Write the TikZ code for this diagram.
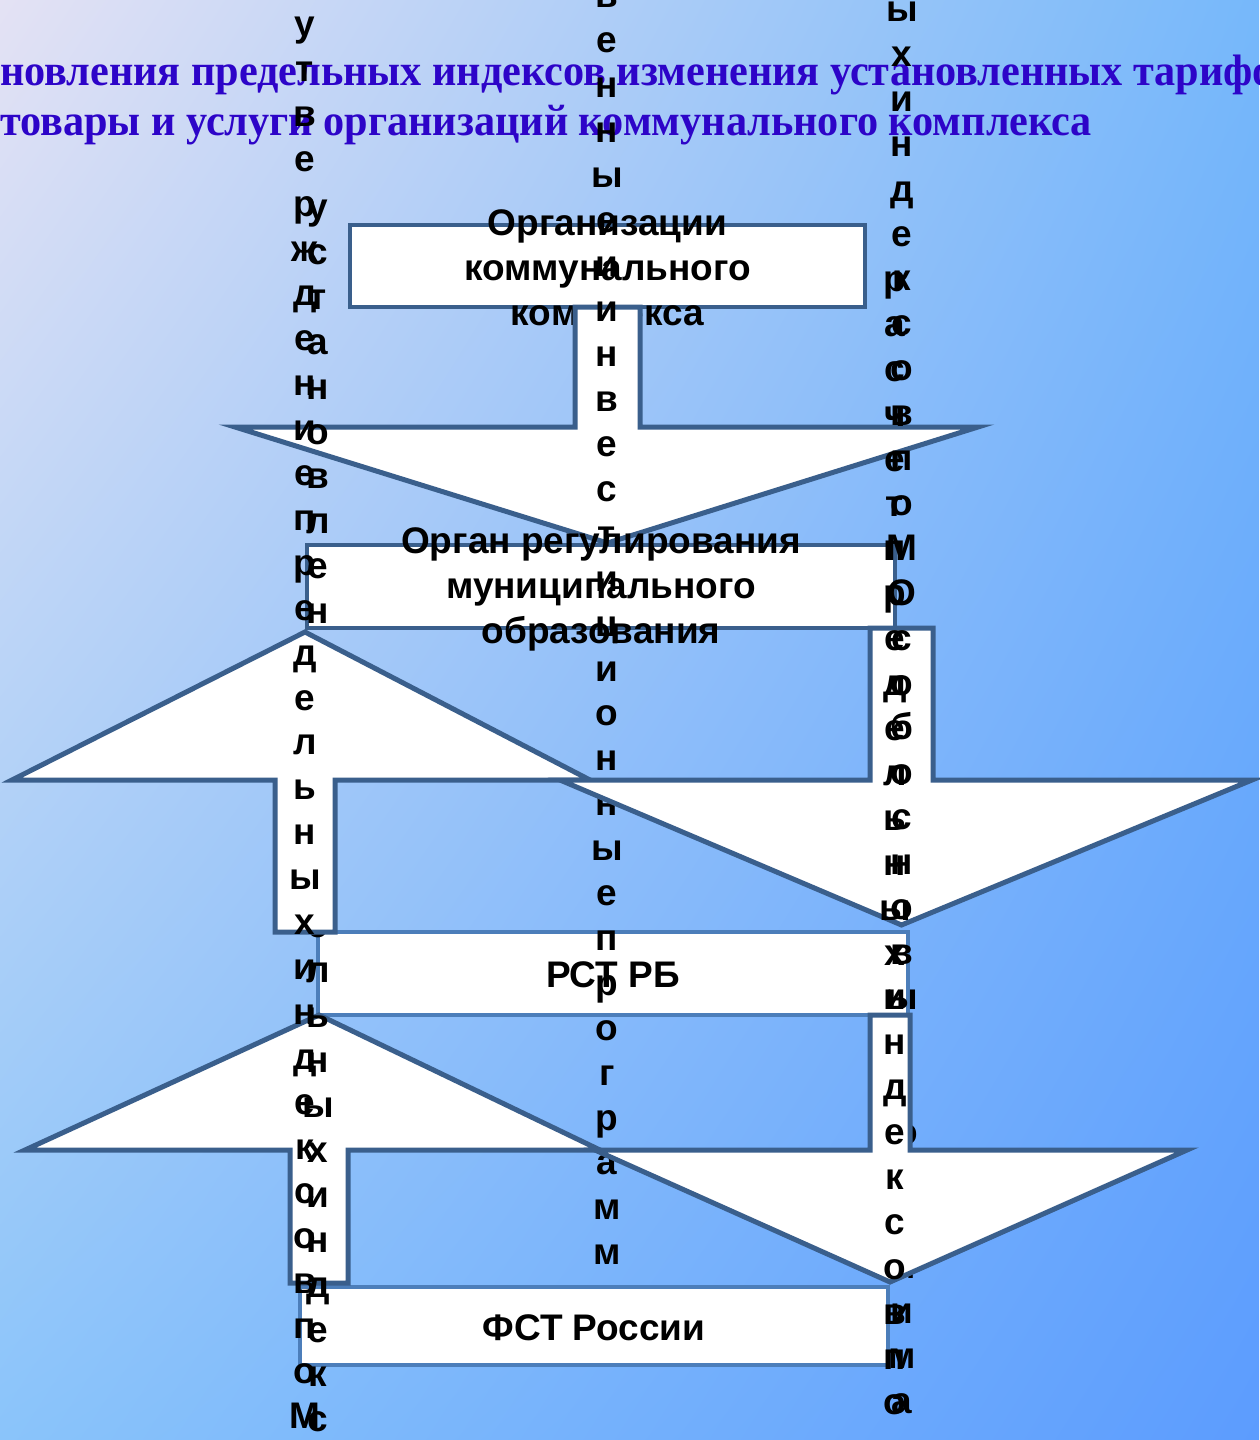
\documentclass[tikz,border=0pt]{standalone}
\usepackage{graphicx}
\usepackage{fontspec}
\setmainfont{Liberation Sans}
\newfontfamily\titlefont{Liberation Serif}
\usetikzlibrary{shadings}

\definecolor{bgtl}{RGB}{228,226,244}
\definecolor{bgtr}{RGB}{118,184,250}
\definecolor{bgbl}{RGB}{138,196,250}
\definecolor{bgbr}{RGB}{92,156,254}
\definecolor{titleblue}{RGB}{45,4,200}
\definecolor{darkline}{RGB}{58,95,140}
\definecolor{lightline}{RGB}{76,126,186}

% block arrow: shaft axis x, shaft end y, wing y, tip y, half shaft, left wing x, right wing x
\newcommand{\blockarrow}[7]{%
  \draw[arrowblock] ({#1-#5},#2) -- ({#1-#5},#3) -- (#6,#3) -- (#1,#4) -- (#7,#3) -- ({#1+#5},#3) -- ({#1+#5},#2) -- cycle;}

% one letter per line: name, x, y of first letter, letters
\newcommand{\lettercolumn}[4]{%
  \foreach \ch [count=\k from 0] in {#4}
    \node[vletter] (#1-\k) at (#2,{#3+9.5+44.9*\k}) {\ch};}

\begin{document}
\begin{tikzpicture}
[x=1pt, y=-1pt,
 boxnode/.style={rectangle, draw=darkline, line width=4.5pt, fill=white, inner sep=0pt},
 lightbox/.style={boxnode, draw=lightline},
 boxtext/.style={align=center, inner sep=0pt, font=\bfseries\fontsize{37}{45}\selectfont},
 arrowblock/.style={draw=darkline, line width=5pt, fill=white},
 vletter/.style={anchor=base, inner sep=0pt, font=\bfseries\fontsize{37}{45}\selectfont},
 titletext/.style={anchor=base west, inner sep=0pt, text=titleblue, font=\titlefont\bfseries\fontsize{44}{50}\selectfont}]

\useasboundingbox (0,0) rectangle (1259,1440);
\shade[upper left=bgtl, upper right=bgtr, lower left=bgbl, lower right=bgbr] (0,0) rectangle (1259,1440);

% title
\node[titletext] (title1) at (0,85) {\scalebox{0.96}[1]{новления предельных индексов изменения установленных тарифов}};
\node[titletext] (title2) at (0,135) {\scalebox{0.96}[1]{товары и услуги организаций коммунального комплекса}};

% boxes and block arrows
\node[boxnode, minimum width=515pt, minimum height=82pt] (org) at (607.5,266) {};
\node[boxtext] (orgtext) at ([yshift=-2pt]org.center) {Организации\\коммунального\\комплекса};
\blockarrow{607.5}{307}{427}{543}{32.5}{235}{978}

\node[boxnode, minimum width=588pt, minimum height=83pt] (reg) at (601,586.5) {};
\node[boxtext] (regtext) at ([yshift=-3pt]reg.center) {Орган регулирования\\муниципального\\образования};

\node[lightbox, minimum width=590pt, minimum height=83pt] (rst) at (613,973.5) {};
\node[boxtext] (rsttext) at ([yshift=-1pt]rst.center) {РСТ РБ};

\lettercolumn{prog}{607}{-2}{в,е,н,н,ы,е,и,и,н,в,е,с,т,и,ц,и,о,н,н,ы,е,п,р,о,г,р,а,м,м}

\node[lightbox, minimum width=588pt, minimum height=78pt] (fst) at (594,1326) {};
\node[boxtext] (fsttext) at ([yshift=-2pt]fst.center) {ФСТ России};

\blockarrow{319}{1283}{1150}{1015}{29}{25}{600}
\lettercolumn{ustan}{318}{210}{у,с,т,а,н,о,в,л,е,н,и,я,п,р,е,д,е,л,ь,н,ы,х,и,н,д,е,к,с}
\blockarrow{305}{932}{780}{632}{30}{12}{590}
\lettercolumn{utv}{305}{27}{у,т,в,е,р,ж,д,е,н,и,е,п,р,е,д,е,л,ь,н,ы,х,и,н,д,е,к,с,о,в,п,о,М}

\blockarrow{901.5}{628}{780}{925}{31.5}{560}{1252}
\lettercolumn{obosn}{902}{12}{ы,х,и,н,д,е,к,с,о,в,п,о,М,О,с,о,б,о,с,н,о,в,ы,в,а,ю,щ,и,м,и,м,а}
\blockarrow{890}{1015}{1150}{1282}{20}{595}{1187}
\lettercolumn{rasch}{895}{282}{р,а,с,ч,е,т,п,р,е,д,е,л,ь,н,ы,х,и,н,д,е,к,с,о,в,п,о}
\end{tikzpicture}
\end{document}
